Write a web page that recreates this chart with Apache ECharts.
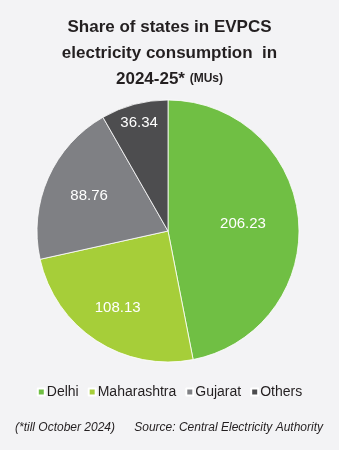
<!DOCTYPE html>
<html><head><meta charset="utf-8">
<style>html,body{margin:0;padding:0;background:#f3f3f5;}#c{width:339px;height:450px;}</style>
<script src="https://cdn.jsdelivr.net/npm/echarts@6/dist/echarts.min.js"></script>
</head><body><div id="c"></div>
<script>
const categories = ['Delhi', 'Maharashtra', 'Gujarat', 'Others'];
const values = [206.23, 108.13, 88.76, 36.34];
const labels = ['206.23', '108.13', '88.76', '36.34'];
const colors = ['#70bf44', '#a6ce39', '#7f8084', '#4d4d4f'];
const labelRadiusFrac = [0.55, 0.67, 0.63, 0.82];
const FONT = '"Liberation Sans", Arial, sans-serif';
const CX = 168, CY = 231, R = 131;

const chart = echarts.init(document.getElementById('c'), null, {renderer: 'canvas'});
chart.setOption({
  backgroundColor: '#f3f3f5',
  animation: false,
  title: {
    text: 'Share of states in EVPCS\nelectricity consumption  in\n2024-25* {s|(MUs)}',
    left: 'center', top: 9,
    textStyle: {
      fontFamily: FONT, fontSize: 17, fontWeight: 'bold', color: '#231f20', lineHeight: 26,
      rich: { s: { fontFamily: FONT, fontSize: 12, fontWeight: 'bold', color: '#231f20' } }
    }
  },
  legend: {
    data: categories, bottom: 46, left: 'center',
    icon: 'rect', itemWidth: 7, itemHeight: 7, itemGap: 9,
    textStyle: { fontFamily: FONT, fontSize: 14, color: '#231f20', padding: [0,0,0,-3] }
  },
  series: [{
    type: 'pie',
    center: [CX, CY], radius: R,
    startAngle: 90, clockwise: true,
    itemStyle: { borderColor: '#ffffff', borderWidth: 0.8 },
    label: {
      position: 'inside', color: '#ffffff', fontFamily: FONT, fontSize: 15,
      formatter: p => labels[p.dataIndex]
    },
    labelLayout: function (p) {
      const r = p.labelRect;
      const lx = r.x + r.width / 2, ly = r.y + r.height / 2;
      const k = labelRadiusFrac[p.dataIndex] * R / (R / 2) - 1;
      return { dx: (lx - CX) * k, dy: (ly - CY) * k };
    },
    labelLine: { show: false },
    data: categories.map((c, i) => ({ name: c, value: values[i], itemStyle: { color: colors[i] } }))
  }],
  graphic: [
    { type: 'text', left: 15, top: 422, style: { text: '(*till October 2024)', font: 'italic 12px ' + FONT, fill: '#231f20' } },
    { type: 'text', right: 16, top: 422, style: { text: 'Source: Central Electricity Authority', font: 'italic 12px ' + FONT, fill: '#231f20' } }
  ]
});
</script></body></html>
